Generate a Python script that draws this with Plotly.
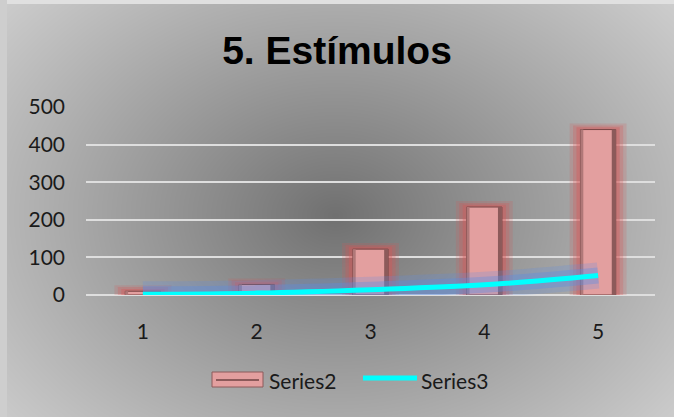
import numpy as np, zlib, struct, base64
import plotly.graph_objects as go

categories = ["1", "2", "3", "4", "5"]
series2 = [10, 28, 122, 234, 440]
series3 = [2, 5, 14, 27, 52]
y_ticks = [0, 100, 200, 300, 400, 500]
legend_names = ["Series2", "Series3"]

W, H = 674, 417

# radial gray gradient background as PNG
yy, xx = np.mgrid[0:H, 0:W]
cx, cy = 335, 215
d = np.sqrt(((xx - cx) / 440.0) ** 2 + ((yy - cy) / 330.0) ** 2)
v = 112 + (205 - 112) * np.clip(d, 0, 1) ** 0.95
img = np.stack([v, v, v], axis=-1)
img[:4, :, :] = 224
img[:, :7, :] = 206
img = np.clip(img, 0, 255).astype(np.uint8)
raw = b"".join(b"\x00" + img[r].tobytes() for r in range(H))
def chunk(t, data):
    c = struct.pack(">I", len(data)) + t + data
    return c + struct.pack(">I", zlib.crc32(t + data) & 0xffffffff)
png = b"\x89PNG\r\n\x1a\n" + chunk(b"IHDR", struct.pack(">IIBBBBB", W, H, 8, 2, 0, 0, 0)) \
      + chunk(b"IDAT", zlib.compress(raw, 9)) + chunk(b"IEND", b"")
uri = "data:image/png;base64," + base64.b64encode(png).decode()

BAR_COLOR = "#e39f9f"
LINE_COLOR = "#00ffff"

fig = go.Figure()
# soft glow behind bars (stacked translucent layers)
for w, pad, a in [(0.50, 16, 0.18), (0.44, 11, 0.25), (0.38, 6, 0.35)]:
    fig.add_trace(go.Bar(x=categories, y=[v + pad for v in series2], width=w,
                         marker=dict(color=f"rgba(215,85,85,{a})", line=dict(width=0)),
                         showlegend=False, hoverinfo="skip"))
fig.add_trace(go.Bar(x=categories, y=series2, width=0.31, name=legend_names[0], showlegend=False,
                     marker=dict(color=BAR_COLOR, line=dict(color="#7a4545", width=1))))
# bevel edges
fig.add_trace(go.Bar(x=categories, y=series2, width=0.035, offset=0.12,
                     marker=dict(color="#8c5a5a", line=dict(width=0)),
                     showlegend=False, hoverinfo="skip"))
fig.add_trace(go.Bar(x=categories, y=series2, width=0.025, offset=-0.155,
                     marker=dict(color="#b07878", line=dict(width=0)),
                     showlegend=False, hoverinfo="skip"))
# glow behind line
for w, a in [(26, 0.22), (16, 0.35)]:
    fig.add_trace(go.Scatter(x=categories, y=series3, mode="lines", showlegend=False,
                             line=dict(color=f"rgba(90,140,230,{a})", width=w, shape="spline"),
                             hoverinfo="skip"))
fig.add_trace(go.Scatter(x=categories, y=series3, mode="lines", name=legend_names[1], showlegend=False,
                         line=dict(color=LINE_COLOR, width=5, shape="spline")))

# legend (drawn as annotations + swatches at the bottom)
def px(x): return x / W
def py(y): return 1 - y / H
ly = 380
annotations = [
    dict(text=legend_names[0], x=px(267), y=py(ly), xref="paper", yref="paper", xanchor="left",
         yanchor="middle", showarrow=False, font=dict(family="Lato", size=21, color="#1a1a1a")),
    dict(text=legend_names[1], x=px(419), y=py(ly), xref="paper", yref="paper", xanchor="left",
         yanchor="middle", showarrow=False, font=dict(family="Lato", size=21, color="#1a1a1a")),
]
shapes = [
    dict(type="rect", xref="paper", yref="paper", x0=px(212), x1=px(263), y0=py(387), y1=py(372),
         fillcolor=BAR_COLOR, line=dict(color="#8c5a5a", width=1)),
    dict(type="line", xref="paper", yref="paper", x0=px(216), x1=px(259), y0=py(380), y1=py(380),
         line=dict(color="#8c5a5a", width=2)),
    dict(type="line", xref="paper", yref="paper", x0=px(363), x1=px(417), y0=py(378), y1=py(378),
         line=dict(color=LINE_COLOR, width=5)),
]

ytop = 295 - 502 * (295 - 107) / 500
fig.update_layout(
    width=W, height=H,
    margin=dict(l=0, r=0, t=0, b=0, autoexpand=False),
    paper_bgcolor="rgba(0,0,0,0)", plot_bgcolor="rgba(0,0,0,0)",
    images=[dict(source=uri, xref="paper", yref="paper", x=0, y=1, sizex=1, sizey=1,
                 sizing="stretch", xanchor="left", yanchor="top", layer="below")],
    barmode="overlay",
    showlegend=False,
    annotations=annotations,
    shapes=shapes,
    title=dict(text="<b>5. Estímulos</b>", x=0.5, xanchor="center", y=1 - 50 / H, yanchor="middle",
               font=dict(family="Liberation Sans", size=39, color="black")),
    xaxis=dict(domain=[86 / W, 655 / W], showgrid=False, zeroline=False, showline=False,
               automargin=False,
               tickfont=dict(family="Lato", size=21, color="#1a1a1a"), ticks="", ticklabelstandoff=22),
    yaxis=dict(domain=[(H - 295) / H, (H - ytop) / H], range=[0, 502], tickvals=y_ticks,
               showgrid=True, gridcolor="#dedede", gridwidth=1.5,
               zeroline=True, zerolinecolor="#dedede", zerolinewidth=1.5, showline=False,
               automargin=False,
               tickfont=dict(family="Lato", size=21, color="#1a1a1a"), ticks="", ticklabelstandoff=20),
)
fig.write_html("out.html")
